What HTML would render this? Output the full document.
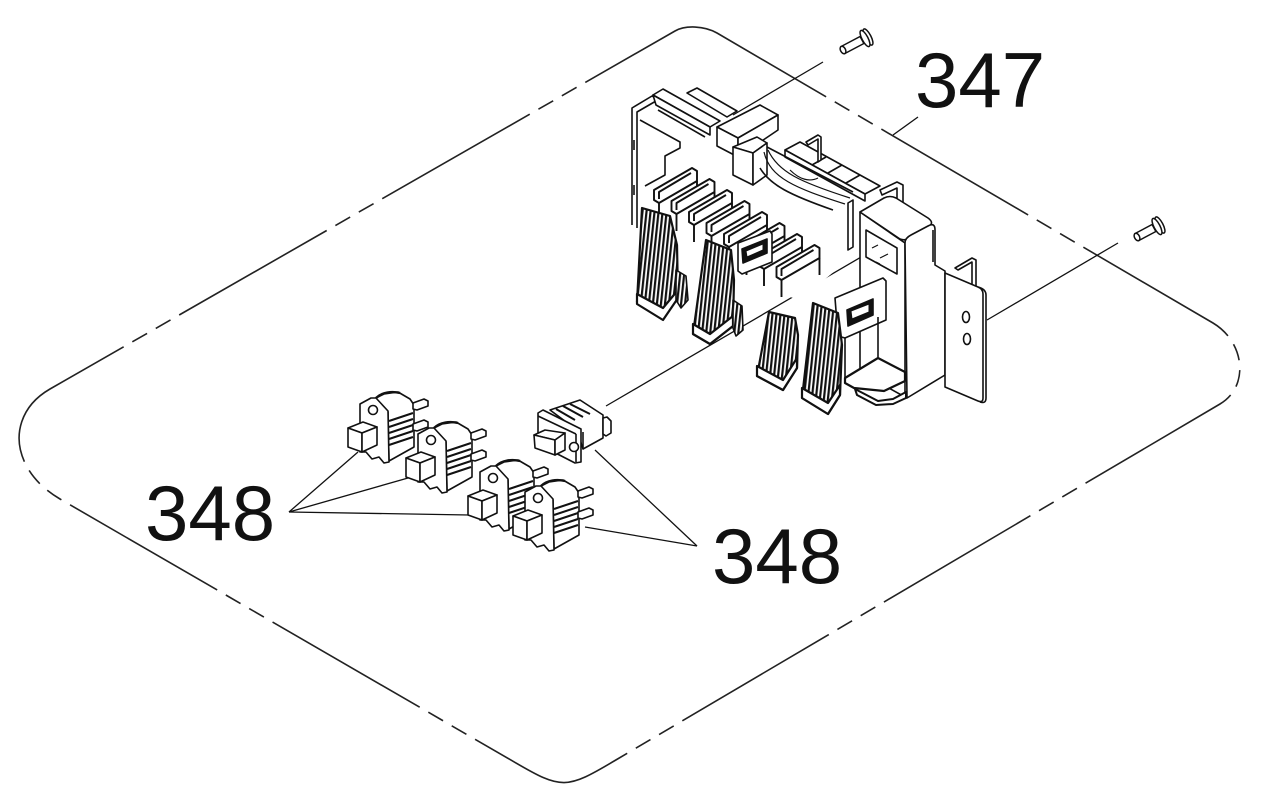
<!DOCTYPE html>
<html><head><meta charset="utf-8"><style>
html,body{margin:0;padding:0;background:#fff;}
svg{display:block;}
text{font-family:"Liberation Sans",Arial,sans-serif;fill:#111;}
</style></head><body>
<svg width="1261" height="807" viewBox="0 0 1261 807" xmlns="http://www.w3.org/2000/svg">
<defs>
<pattern id="hatch" patternUnits="userSpaceOnUse" width="4" height="8" patternTransform="rotate(6)">
<rect width="4" height="8" fill="#fff"/>
<rect x="0" width="2.2" height="8" fill="#111"/>
</pattern>
</defs>
<rect width="1261" height="807" fill="#fff"/>

<!-- dashed outline -->
<path d="M675,31 C685.5,25 704.3,25.8 717,33 L1213,323 C1245.4,342.4 1249.3,386.9 1220,404 L615,760.5 C566.5,789.5 561.5,789.6 515,762.4 L60,499 C10,470 5,415 50,389 Z" fill="none" stroke="#222" stroke-width="1.6" stroke-dasharray="170 10 17 10 17 10"/>

<!-- labels -->
<text x="915" y="107" font-size="78">347</text>
<text x="145" y="540" font-size="78">348</text>
<text x="712" y="583" font-size="78">348</text>

<g stroke="#111" stroke-width="1.3" fill="none">
<line x1="893" y1="135" x2="918" y2="117"/>
<line x1="823" y1="62" x2="733" y2="115"/>
<line x1="1118" y1="243" x2="987" y2="320"/>
<line x1="606" y1="406" x2="880" y2="246"/>
<line x1="289" y1="512" x2="358" y2="452"/>
<line x1="289" y1="512" x2="408" y2="478"/>
<line x1="289" y1="512" x2="469" y2="515"/>
<line x1="697" y1="546" x2="595" y2="450"/>
<line x1="697" y1="546" x2="585" y2="527"/>
</g>

<!-- screws -->
<g stroke="#111" stroke-width="1.5" fill="#fff">
<polygon points="844.9,53.5 863.9,43.5 860.1,36.5 841.1,46.5"/>
<ellipse cx="843" cy="50" rx="2.5" ry="4" transform="rotate(-27.6 843 50)"/>
<ellipse cx="868" cy="37" rx="3" ry="9" transform="rotate(-27.6 868 37)"/>
<ellipse cx="865" cy="38.5" rx="3" ry="9" transform="rotate(-27.6 865 38.5)"/>
<polygon points="1138.9,240.5 1155.9,231.5 1152.1,224.5 1135.1,233.5"/>
<ellipse cx="1137" cy="237" rx="2.5" ry="4" transform="rotate(-27.6 1137 237)"/>
<ellipse cx="1160" cy="225" rx="3" ry="9" transform="rotate(-27.6 1160 225)"/>
<ellipse cx="1157" cy="226.5" rx="3" ry="9" transform="rotate(-27.6 1157 226.5)"/>
</g>

<!-- MAIN ASSEMBLY -->
<g stroke="#111" stroke-width="1.6" stroke-linejoin="round" fill="#fff">
<!-- rear housing silhouette (fill only) -->
<polygon points="632,108 653,95 720,122 780,115 880,186 905,212 905,260 860,250 800,300 700,270 640,240 632,225" stroke="none"/>
<!-- left plate -->
<polyline points="632,225 632,108 652,96 660,100" fill="none"/>
<polyline points="637,228 637,112 656,101" fill="none"/>
<polyline points="640,120 680,142 680,148 665,156 665,175 645,186" fill="none"/>
<line x1="634" y1="140" x2="634" y2="150"/>
<line x1="634" y1="185" x2="634" y2="195"/>
<!-- top wall -->
<polygon points="653,95 663,89 720,121 710,127"/>
<polygon points="653,95 710,127 710,135 656,105"/>
<polygon points="687,93 697,88 737,111 727,117"/>
<line x1="658" y1="110" x2="705" y2="137"/>
<!-- top rail behind cable -->
<polygon points="785,150 800,142 880,186 865,194"/>
<polygon points="785,150 865,194 865,201 785,157"/>
<line x1="812" y1="165" x2="826" y2="157"/>
<line x1="828" y1="173" x2="842" y2="165"/>
<line x1="846" y1="183" x2="860" y2="175"/>
<polygon points="806,142 818,135 821,137 821,160 818,162 818,139 808,145"/>
<polygon points="880,190 897,182 903,185 903,212 897,215 897,188 882,195"/>
<!-- connector box -->
<polygon points="717,127 760,105 778,115 738,138"/>
<polygon points="717,127 738,138 738,157 717,146"/>
<polygon points="738,138 778,115 778,130 738,157"/>
<polygon points="733,147 757,137 767,143 753,153"/>
<polygon points="733,147 753,153 753,185 733,175"/>
<polygon points="753,153 767,143 767,175 753,185"/>
<!-- cable -->
<path d="M767,147 L853,192" fill="none"/>
<path d="M760,168 C770,185 790,195 833,210" fill="none"/>
<path d="M764,152 C770,178 795,188 845,204" fill="none" stroke-width="1.2"/>
<path d="M768,150 C778,172 800,182 850,198" fill="none" stroke-width="1.2"/>
<path d="M790,170 C800,180 810,182 818,178" fill="none" stroke-width="1.2"/>
<polygon points="848,203 853,200 853,247 848,250"/>

<!-- slots -->
<g stroke-width="1.9">
<g transform="translate(692,168)"><polygon points="0,0 5,3 5,13 -33,35 -38,32 -38,22"/><polyline points="-1,5 -33,24 -33,31" fill="none"/><line x1="-33" y1="35" x2="-33" y2="52"/><line x1="5" y1="13" x2="5" y2="30"/></g>
<g transform="translate(709.5,179)"><polygon points="0,0 5,3 5,13 -33,35 -38,32 -38,22"/><polyline points="-1,5 -33,24 -33,31" fill="none"/><line x1="-33" y1="35" x2="-33" y2="52"/><line x1="5" y1="13" x2="5" y2="30"/></g>
<g transform="translate(727,190)"><polygon points="0,0 5,3 5,13 -33,35 -38,32 -38,22"/><polyline points="-1,5 -33,24 -33,31" fill="none"/><line x1="-33" y1="35" x2="-33" y2="52"/><line x1="5" y1="13" x2="5" y2="30"/></g>
<g transform="translate(744.5,201)"><polygon points="0,0 5,3 5,13 -33,35 -38,32 -38,22"/><polyline points="-1,5 -33,24 -33,31" fill="none"/><line x1="-33" y1="35" x2="-33" y2="52"/><line x1="5" y1="13" x2="5" y2="30"/></g>
<g transform="translate(762,212)"><polygon points="0,0 5,3 5,13 -33,35 -38,32 -38,22"/><polyline points="-1,5 -33,24 -33,31" fill="none"/><line x1="-33" y1="35" x2="-33" y2="52"/><line x1="5" y1="13" x2="5" y2="30"/></g>
<g transform="translate(779.5,223)"><polygon points="0,0 5,3 5,13 -33,35 -38,32 -38,22"/><polyline points="-1,5 -33,24 -33,31" fill="none"/><line x1="-33" y1="35" x2="-33" y2="52"/><line x1="5" y1="13" x2="5" y2="30"/></g>
<g transform="translate(797,234)"><polygon points="0,0 5,3 5,13 -33,35 -38,32 -38,22"/><polyline points="-1,5 -33,24 -33,31" fill="none"/><line x1="-33" y1="35" x2="-33" y2="52"/><line x1="5" y1="13" x2="5" y2="30"/></g>
<g transform="translate(814.5,245)"><polygon points="0,0 5,3 5,13 -33,35 -38,32 -38,22"/><polyline points="-1,5 -33,24 -33,31" fill="none"/><line x1="-33" y1="35" x2="-33" y2="52"/><line x1="5" y1="13" x2="5" y2="30"/></g>
</g>

<!-- middle frame with window -->
<polygon points="738,243 770,231 772,234 772,262 742,274 738,271"/>
<polygon points="742,249 767,239 767,253 743,263" fill="#111"/>
<polygon points="746,251 763,244 763,250 747,257" fill="#fff" stroke-width="1"/>

<!-- right block left face -->
<polygon points="860,212 905,243 905,397 860,372"/>
<polygon points="866,230 897,248 897,274 866,257" fill="none"/>
<path d="M872,248 l6,-3 M880,258 l8,-4 M876,262 l4,2" fill="none" stroke-width="1.2"/>
<!-- frame near L4 -->
<polygon points="835,298 883,278 886,281 886,320 845,338 838,336"/>
<polygon points="847,310 873,299 873,315 848,326" fill="#111"/>
<polygon points="851,311 869,304 869,312 852,319" fill="#fff" stroke-width="1"/>
<line x1="845" y1="338" x2="845" y2="378"/>
<line x1="878" y1="317" x2="878" y2="357"/>
<!-- tray -->
<polygon points="845,378 878,358 905,372 905,381 884,391 854,388 845,383" stroke-width="2.2"/>
<polygon points="855,389 878,401 893,399 906,392 906,398 893,404 876,405 857,395" stroke-width="2"/>

<!-- block top & front -->
<path d="M860,212 L884,198 Q890,195 896,198 L928,218 Q935,223 928,227 L910,238 Q905,241 900,239 Z"/>
<path d="M905,243 Q905,238 911,235 L928,226 Q935,222 935,230 L935,265 L945,271 L945,375 L907,398 Z"/>
<line x1="933" y1="230" x2="933" y2="262"/>
<!-- bracket -->
<polygon points="955,268 972,258 976,260 976,289 972,288 972,262 958,270"/>
<path d="M945,273 L978,287 Q983,289 983,294 L983,398 Q983,403 978,401 L945,387 Z"/>
<path d="M978,287 Q986,289 986,295 L986,398 Q986,404 980,402" fill="none"/>
<ellipse cx="966" cy="317" rx="3.5" ry="5.5"/>
<ellipse cx="967" cy="339" rx="3.5" ry="5.5"/>

<!-- latches -->
<polygon points="642,208 670,216 677,245 678,296 663,316 637,302" fill="url(#hatch)" stroke-width="2.2"/>
<polygon points="637,294 663,308 678,290 678,298 663,320 637,304" stroke-width="2.2"/>
<polygon points="706,240 731,250 734,280 733,326 710,344 693,334" fill="url(#hatch)" stroke-width="2.2"/>
<polygon points="693,324 710,334 733,316 733,326 710,344 693,334" stroke-width="2.2"/>
<polygon points="769,312 795,318 798,335 797,368 783,390 757,376" fill="url(#hatch)" stroke-width="2.2"/>
<polygon points="757,366 783,380 797,358 797,368 783,390 757,376" stroke-width="2.2"/>
<polygon points="813,303 838,313 842,345 840,395 828,414 802,398" fill="url(#hatch)" stroke-width="2.2"/>
<polygon points="802,388 828,403 840,385 840,395 828,414 802,398" stroke-width="2.2"/>
<!-- small secondary legs -->
<polygon points="676,270 686,276 688,300 681,308 676,300" fill="url(#hatch)"/>
<polygon points="733,300 742,306 743,330 736,336 733,328" fill="url(#hatch)"/>
</g>

<!-- SMALL CONNECTORS 348 -->
<g stroke="#111" stroke-width="1.6" stroke-linejoin="round" fill="#fff">
<g>
<polygon points="374,399 384,394 398,392 410,399 414,405 414,447 389,461 388,412"/>
<path d="M376,398 C382,392 392,391 400,393" fill="none" stroke-width="2.4"/>
<line x1="389" y1="421" x2="413" y2="413" stroke-width="2"/>
<line x1="389" y1="427" x2="413" y2="419" stroke-width="2"/>
<line x1="389" y1="433" x2="413" y2="425" stroke-width="2"/>
<line x1="389" y1="439" x2="413" y2="431" stroke-width="2"/>
<line x1="389" y1="445" x2="413" y2="437" stroke-width="2"/>
<polygon points="413,403 424,399 428,401 428,406 417,410 413,409"/>
<polygon points="413,424 424,420 428,422 428,427 417,431 413,430"/>
<polygon points="360,404 371,398 376,398 388,411 389,462 384,463 379,457 372,459 366,452 360,452"/>
<circle cx="373" cy="410" r="4.5"/>
<polygon points="348,428 363,422 377,427 362,433"/>
<polygon points="348,428 362,433 362,452 348,447"/>
<polygon points="362,433 377,427 377,445 362,452"/>
</g>
<g transform="translate(58,30)">
<polygon points="374,399 384,394 398,392 410,399 414,405 414,447 389,461 388,412"/>
<path d="M376,398 C382,392 392,391 400,393" fill="none" stroke-width="2.4"/>
<line x1="389" y1="421" x2="413" y2="413" stroke-width="2"/>
<line x1="389" y1="427" x2="413" y2="419" stroke-width="2"/>
<line x1="389" y1="433" x2="413" y2="425" stroke-width="2"/>
<line x1="389" y1="439" x2="413" y2="431" stroke-width="2"/>
<line x1="389" y1="445" x2="413" y2="437" stroke-width="2"/>
<polygon points="413,403 424,399 428,401 428,406 417,410 413,409"/>
<polygon points="413,424 424,420 428,422 428,427 417,431 413,430"/>
<polygon points="360,404 371,398 376,398 388,411 389,462 384,463 379,457 372,459 366,452 360,452"/>
<circle cx="373" cy="410" r="4.5"/>
<polygon points="348,428 363,422 377,427 362,433"/>
<polygon points="348,428 362,433 362,452 348,447"/>
<polygon points="362,433 377,427 377,445 362,452"/>
</g>
<g transform="translate(120,68)">
<polygon points="374,399 384,394 398,392 410,399 414,405 414,447 389,461 388,412"/>
<path d="M376,398 C382,392 392,391 400,393" fill="none" stroke-width="2.4"/>
<line x1="389" y1="421" x2="413" y2="413" stroke-width="2"/>
<line x1="389" y1="427" x2="413" y2="419" stroke-width="2"/>
<line x1="389" y1="433" x2="413" y2="425" stroke-width="2"/>
<line x1="389" y1="439" x2="413" y2="431" stroke-width="2"/>
<line x1="389" y1="445" x2="413" y2="437" stroke-width="2"/>
<polygon points="413,403 424,399 428,401 428,406 417,410 413,409"/>
<polygon points="413,424 424,420 428,422 428,427 417,431 413,430"/>
<polygon points="360,404 371,398 376,398 388,411 389,462 384,463 379,457 372,459 366,452 360,452"/>
<circle cx="373" cy="410" r="4.5"/>
<polygon points="348,428 363,422 377,427 362,433"/>
<polygon points="348,428 362,433 362,452 348,447"/>
<polygon points="362,433 377,427 377,445 362,452"/>
</g>
<g transform="translate(165,88)">
<polygon points="374,399 384,394 398,392 410,399 414,405 414,447 389,461 388,412"/>
<path d="M376,398 C382,392 392,391 400,393" fill="none" stroke-width="2.4"/>
<line x1="389" y1="421" x2="413" y2="413" stroke-width="2"/>
<line x1="389" y1="427" x2="413" y2="419" stroke-width="2"/>
<line x1="389" y1="433" x2="413" y2="425" stroke-width="2"/>
<line x1="389" y1="439" x2="413" y2="431" stroke-width="2"/>
<line x1="389" y1="445" x2="413" y2="437" stroke-width="2"/>
<polygon points="413,403 424,399 428,401 428,406 417,410 413,409"/>
<polygon points="413,424 424,420 428,422 428,427 417,431 413,430"/>
<polygon points="360,404 371,398 376,398 388,411 389,462 384,463 379,457 372,459 366,452 360,452"/>
<circle cx="373" cy="410" r="4.5"/>
<polygon points="348,428 363,422 377,427 362,433"/>
<polygon points="348,428 362,433 362,452 348,447"/>
<polygon points="362,433 377,427 377,445 362,452"/>
</g>
<!-- C5 reversed connector -->
<polygon points="550,410 580,400 603,415 603,438 583,449 577,430"/>
<line x1="556" y1="409" x2="575" y2="420" stroke-width="2"/>
<line x1="563" y1="406" x2="583" y2="417" stroke-width="2"/>
<line x1="570" y1="404" x2="590" y2="414" stroke-width="2"/>
<line x1="583" y1="432" x2="583" y2="449"/>
<polygon points="603,418 607,417 611,421 611,433 606,436 603,434"/>
<polygon points="538,413 543,410 581,429 581,462 575,463 538,444"/>
<line x1="538" y1="416" x2="576" y2="434"/>
<line x1="576" y1="434" x2="576" y2="462"/>
<circle cx="574" cy="447" r="4.5"/>
<polygon points="534,435 545,430 565,433 555,440"/>
<polygon points="534,435 555,440 555,455 535,448"/>
<polygon points="555,440 565,433 565,450 555,455"/>
</g>
</svg>
</body></html>
